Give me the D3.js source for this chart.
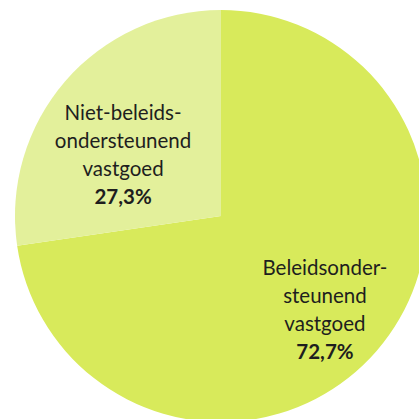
<!DOCTYPE html>
<html>
<head>
<meta charset="utf-8">
<script src="https://cdn.jsdelivr.net/npm/d3@7"></script>
<style>
  html, body { margin: 0; padding: 0; background: #fff; }
  svg { display: block; }
</style>
</head>
<body>
<svg></svg>
<script>
// data
const categories = ["Beleidsondersteunend vastgoed", "Niet-beleidsondersteunend vastgoed"];
const shares = [72.7, 27.3];
const labelLines = [
    ["Beleidsonder-", "steunend", "vastgoed"],
    ["Niet-beleids-", "ondersteunend", "vastgoed"]
];
const colors = ["#d8ea5b", "#e3f09b"];

const width = 419, height = 419;
const cx = 221, cy = 216, radius = 206;

const svg = d3.select("svg")
    .attr("width", width)
    .attr("height", height);

const g = svg.append("g")
    .attr("transform", `translate(${cx},${cy})`);

const pie = d3.pie().sort(null).value(d => d);
const arcs = pie(shares);

const arc = d3.arc().innerRadius(0).outerRadius(radius);
const labelArc = d3.arc().innerRadius(radius * 0.68).outerRadius(radius * 0.68);

g.selectAll("path.slice")
    .data(arcs)
    .enter().append("path")
    .attr("class", "slice")
    .attr("d", arc)
    .attr("fill", (d, i) => colors[i]);

// small nudges so the text blocks sit where the original has them
const nudge = [[-2, 2], [8, 31]];
const lineH = 28;

const labels = g.selectAll("text.lbl")
    .data(arcs)
    .enter().append("text")
    .attr("class", "lbl")
    .attr("transform", (d, i) => {
        const c = labelArc.centroid(d);
        return `translate(${c[0] + nudge[i][0]},${c[1] + nudge[i][1]})`;
    })
    .attr("text-anchor", "middle")
    .style("font-family", "Lato, 'Open Sans', sans-serif")
    .style("font-size", "20.5px")
    .style("fill", "#1e1e1e");

labels.each(function(d, i) {
    const t = d3.select(this);
    const lines = labelLines[i];
    const n = lines.length + 1;
    const y0 = -((n - 1) * lineH) / 2 + 7;
    lines.forEach((s, k) => {
        t.append("tspan").attr("x", 0).attr("y", y0 + k * lineH).text(s);
    });
    t.append("tspan")
        .attr("x", 0)
        .attr("y", y0 + lines.length * lineH)
        .style("font-weight", "bold")
        .text(d3.format(".1f")(d.data).replace(".", ",") + "%");
});
</script>
</body>
</html>
